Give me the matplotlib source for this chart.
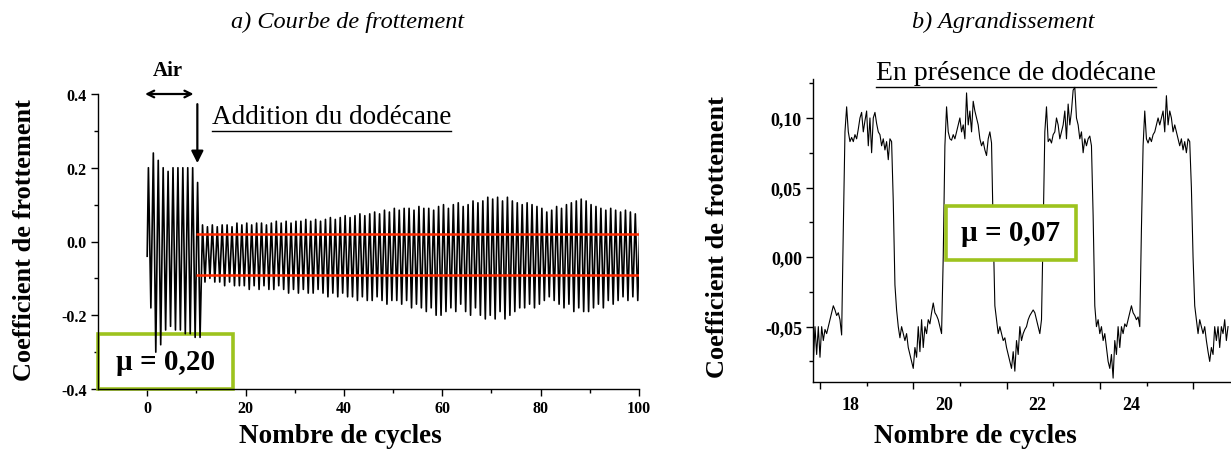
import numpy as np
import matplotlib
matplotlib.use("Agg")
import matplotlib.pyplot as plt
from matplotlib.patches import Rectangle
from matplotlib.lines import Line2D
from matplotlib.ticker import MultipleLocator, FixedLocator, FuncFormatter
import matplotlib.transforms as mtransforms

W, H = 1231, 452
SERIF = "Liberation Serif"
GREEN = "#9dc31e"
RED = "#ff2a00"
plt.rcParams.update({"font.family": SERIF, "axes.linewidth": 1.0})

# ---- a) full run: per-cycle peak (max) and trough (min) of the friction signal
AIR_MAX = [0.20, 0.24, 0.22, 0.20, 0.19, 0.20, 0.20, 0.20, 0.20, 0.20, 0.16]
AIR_MIN = [-0.18, -0.30, -0.28, -0.24, -0.23, -0.24, -0.24, -0.25, -0.25, -0.26, -0.26]
DOD_MAX = [0.045, 0.04, 0.045, 0.04, 0.045, 0.045, 0.04, 0.05, 0.045, 0.05,
           0.045, 0.05, 0.05, 0.045, 0.05, 0.055, 0.05, 0.055, 0.05, 0.055,
           0.055, 0.06, 0.055, 0.06, 0.055, 0.06, 0.065, 0.06, 0.065, 0.07,
           0.065, 0.07, 0.075, 0.07, 0.075, 0.08, 0.075, 0.085, 0.08, 0.09,
           0.085, 0.09, 0.09, 0.085, 0.095, 0.09, 0.09, 0.085, 0.095, 0.10,
           0.09, 0.10, 0.105, 0.095, 0.10, 0.11, 0.105, 0.11, 0.12, 0.115,
           0.12, 0.11, 0.12, 0.11, 0.105, 0.10, 0.105, 0.10, 0.095, 0.09,
           0.08, 0.085, 0.095, 0.09, 0.10, 0.105, 0.11, 0.115, 0.11, 0.10,
           0.095, 0.09, 0.085, 0.09, 0.085, 0.08, 0.085, 0.08, 0.075, 0.08]
DOD_MIN = [-0.11, -0.10, -0.11, -0.11, -0.12, -0.11, -0.12, -0.12, -0.12, -0.13,
           -0.12, -0.13, -0.12, -0.13, -0.13, -0.12, -0.13, -0.14, -0.13, -0.14,
           -0.13, -0.14, -0.14, -0.13, -0.14, -0.15, -0.14, -0.15, -0.14, -0.15,
           -0.15, -0.16, -0.15, -0.16, -0.16, -0.15, -0.16, -0.17, -0.16, -0.16,
           -0.17, -0.16, -0.18, -0.17, -0.18, -0.19, -0.18, -0.20, -0.20, -0.19,
           -0.18, -0.19, -0.17, -0.19, -0.20, -0.18, -0.20, -0.21, -0.20, -0.21,
           -0.19, -0.21, -0.20, -0.19, -0.18, -0.18, -0.17, -0.18, -0.17, -0.16,
           -0.15, -0.16, -0.17, -0.18, -0.17, -0.19, -0.18, -0.19, -0.19, -0.18,
           -0.17, -0.18, -0.16, -0.17, -0.16, -0.15, -0.16, -0.15, -0.16, -0.15]
MU_HIGH, MU_LOW = 0.02, -0.09          # mean levels under dodecane
MU_AIR = "0,20"

# ---- b) zoom on cycles 18-26, sampled every 0.0357 cycle from 17.857
ZOOM_X0, ZOOM_DX = 17.857, 0.0357
ZOOM_Y = (
    [-0.075, -0.05, -0.07, -0.05, -0.072, -0.05, -0.06, -0.052, -0.055, -0.05,
     -0.045, -0.04, -0.035, -0.038, -0.042, -0.04, -0.045, -0.056]
    + [0.02, 0.09, 0.108]
    + [0.09, 0.083, 0.086, 0.083, 0.088, 0.085, 0.092, 0.10, 0.104, 0.09, 0.098,
       0.105, 0.08, 0.10, 0.075, 0.10, 0.104, 0.096, 0.09, 0.088, 0.08, 0.085,
       0.077, 0.083, 0.07, 0.085, 0.083]
    + [0.04, -0.02, -0.038]
    + [-0.05, -0.058, -0.05, -0.055, -0.06, -0.055, -0.065, -0.07, -0.075, -0.08,
       -0.065, -0.072, -0.05, -0.068, -0.045, -0.065, -0.05, -0.055, -0.045,
       -0.048, -0.04, -0.033, -0.04, -0.042, -0.045, -0.05, -0.055]
    + [0.0, 0.08, 0.108]
    + [0.09, 0.085, 0.084, 0.088, 0.085, 0.09, 0.095, 0.10, 0.09, 0.095, 0.085,
       0.118, 0.095, 0.105, 0.09, 0.112, 0.105, 0.10, 0.095, 0.085, 0.08, 0.083,
       0.077, 0.073, 0.085, 0.09, 0.082]
    + [0.02, -0.035]
    + [-0.045, -0.055, -0.05, -0.055, -0.06, -0.058, -0.065, -0.07, -0.075, -0.08,
       -0.068, -0.082, -0.06, -0.07, -0.05, -0.06, -0.055, -0.052, -0.05, -0.045,
       -0.042, -0.04, -0.038, -0.04, -0.045, -0.05, -0.055, -0.045]
    + [0.02, 0.09, 0.108]
    + [0.083, 0.085, 0.082, 0.088, 0.09, 0.10, 0.095, 0.085, 0.09, 0.095, 0.105,
       0.085, 0.11, 0.095, 0.105, 0.12, 0.122, 0.10, 0.095, 0.085, 0.09, 0.075,
       0.085, 0.08, 0.085, 0.087, 0.08]
    + [0.03, -0.035]
    + [-0.05, -0.045, -0.055, -0.05, -0.06, -0.055, -0.065, -0.075, -0.08, -0.07,
       -0.087, -0.06, -0.07, -0.05, -0.065, -0.05, -0.055, -0.048, -0.05, -0.045,
       -0.04, -0.035, -0.04, -0.042, -0.045, -0.043, -0.05]
    + [0.02, 0.08, 0.105]
    + [0.085, 0.082, 0.086, 0.083, 0.088, 0.09, 0.095, 0.10, 0.095, 0.10, 0.105,
       0.09, 0.116, 0.095, 0.105, 0.10, 0.09, 0.095, 0.09, 0.085, 0.08, 0.085,
       0.077, 0.083, 0.075, 0.085, 0.083]
    + [0.05, 0.0, -0.035]
    + [-0.045, -0.055, -0.045, -0.05, -0.055, -0.05, -0.06, -0.068, -0.075, -0.065,
       -0.07, -0.05, -0.06, -0.05, -0.065, -0.05, -0.055, -0.045, -0.06, -0.05]
)
MU_OIL = "0,07"


def fx(px):
    return px / W


def fy(py):
    return 1 - py / H


def underline(fig, txt, gap=2, lw=1.0):
    fig.canvas.draw()
    bb = txt.get_window_extent()
    y = (bb.y0 - gap) / fig.bbox.height
    fig.add_artist(Line2D([bb.x0 / fig.bbox.width, bb.x1 / fig.bbox.width], [y, y],
                          color="black", lw=lw))


def style(ax, size):
    for s in ("top", "right"):
        ax.spines[s].set_visible(False)
    ax.tick_params(which="major", direction="out", length=5, width=1, pad=3, labelsize=size)
    ax.tick_params(which="minor", direction="out", length=3, width=1)
    for lab in ax.get_xticklabels() + ax.get_yticklabels():
        lab.set_fontweight("bold")


fig = plt.figure(figsize=(W / 100, H / 100), dpi=100)

# ================= a) Courbe de frottement =================
axL = fig.add_axes([fx(98), fy(390), (639 - 98) / W, (390 - 95) / H])
xs, ys = [0.0], [-0.04]
cmax = AIR_MAX + DOD_MAX
cmin = AIR_MIN + DOD_MIN
for c, (hi, lo) in enumerate(zip(cmax, cmin)):
    xs += [c + 0.25, c + 0.75]
    ys += [hi, lo]
axL.plot(xs, ys, color="black", lw=1.2, zorder=3)
axL.hlines([MU_HIGH, MU_LOW], 10, 100, color=RED, lw=1.8, zorder=4)
axL.set_xlim(-10, 100)
axL.set_ylim(-0.4, 0.4)
axL.xaxis.set_major_locator(MultipleLocator(20))
axL.xaxis.set_minor_locator(FixedLocator([10, 30, 50, 70, 90]))
axL.yaxis.set_major_locator(MultipleLocator(0.2))
axL.yaxis.set_minor_locator(MultipleLocator(0.1))
axL.yaxis.set_major_formatter(FuncFormatter(lambda v, _: f"{v:.1f}"))
style(axL, 11.5)

axL.add_patch(Rectangle((-10, -0.4), 27.4, 0.149, facecolor="white", edgecolor=GREEN,
                        lw=2.6, zorder=2, clip_on=False))
axL.text(3.7, -0.325, f"µ = {MU_AIR}", ha="center", va="center", fontsize=21,
         fontweight="bold", zorder=5)

axL.annotate("", xy=(-1, 0.4), xytext=(10, 0.4), annotation_clip=False,
             arrowprops=dict(arrowstyle="<->", color="black", lw=1.6, mutation_scale=12))
axL.text(4.3, 0.465, "Air", ha="center", va="center", fontsize=15, fontweight="bold")
axL.annotate("", xy=(10.2, 0.205), xytext=(10.2, 0.38), annotation_clip=False,
             arrowprops=dict(arrowstyle="-|>", color="black", lw=1.6, mutation_scale=18))
t_add = axL.text(13.1, 0.34, "Addition du dodécane", ha="left", va="center", fontsize=19.5)

fig.text(fx(348), fy(22), "a) Courbe de frottement", ha="center", va="center",
         fontsize=17.5, style="italic")
fig.text(fx(340), fy(437), "Nombre de cycles", ha="center", va="center",
         fontsize=19.5, fontweight="bold")
fig.text(fx(25), fy(240), "Coefficient de frottement", ha="center", va="center",
         rotation=90, fontsize=19, fontweight="bold")

# ================= b) Agrandissement =================
axR = fig.add_axes([fx(813), fy(383.3), (W - 813) / W, (383.3 - 80) / H])
zx = ZOOM_X0 + ZOOM_DX * np.arange(len(ZOOM_Y))
axR.plot(zx, ZOOM_Y, color="black", lw=0.8, zorder=3)
axR.set_xlim(17.85, 26.81)
axR.set_ylim(-0.09, 0.128)
axR.xaxis.set_major_locator(FixedLocator([18, 20, 22, 24, 26]))
axR.xaxis.set_minor_locator(FixedLocator([19, 21, 23, 25]))
axR.xaxis.set_major_formatter(FuncFormatter(lambda v, _: "" if v > 25 else f"{v:.0f}"))
axR.yaxis.set_major_locator(MultipleLocator(0.05))
axR.yaxis.set_minor_locator(MultipleLocator(0.025))
axR.yaxis.set_major_formatter(FuncFormatter(lambda v, _: f"{v:.2f}".replace(".", ",").replace("-0,00", "0,00")))
style(axR, 13)
axR.tick_params(axis="x", which="major", pad=5)
shift = mtransforms.ScaledTranslation(0.31, 0, fig.dpi_scale_trans)
for lab in axR.get_xticklabels():
    lab.set_transform(lab.get_transform() + shift)

axR.add_patch(Rectangle((20.70, -0.0019), 2.79, 0.0387, facecolor="white", edgecolor=GREEN,
                        lw=2.6, zorder=4))
axR.text(22.095, 0.0175, f"µ = {MU_OIL}", ha="center", va="center", fontsize=21,
         fontweight="bold", zorder=5)

t_pres = fig.text(fx(1016), fy(73), "En présence de dodécane", ha="center", va="center",
                  fontsize=20)
fig.text(fx(1003), fy(22), "b) Agrandissement", ha="center", va="center",
         fontsize=17.5, style="italic")
fig.text(fx(975), fy(437), "Nombre de cycles", ha="center", va="center",
         fontsize=19.5, fontweight="bold")
fig.text(fx(718), fy(237), "Coefficient de frottement", ha="center", va="center",
         rotation=90, fontsize=19, fontweight="bold")

underline(fig, t_add)
underline(fig, t_pres)

fig.savefig("out.png", dpi=100, facecolor="white")
